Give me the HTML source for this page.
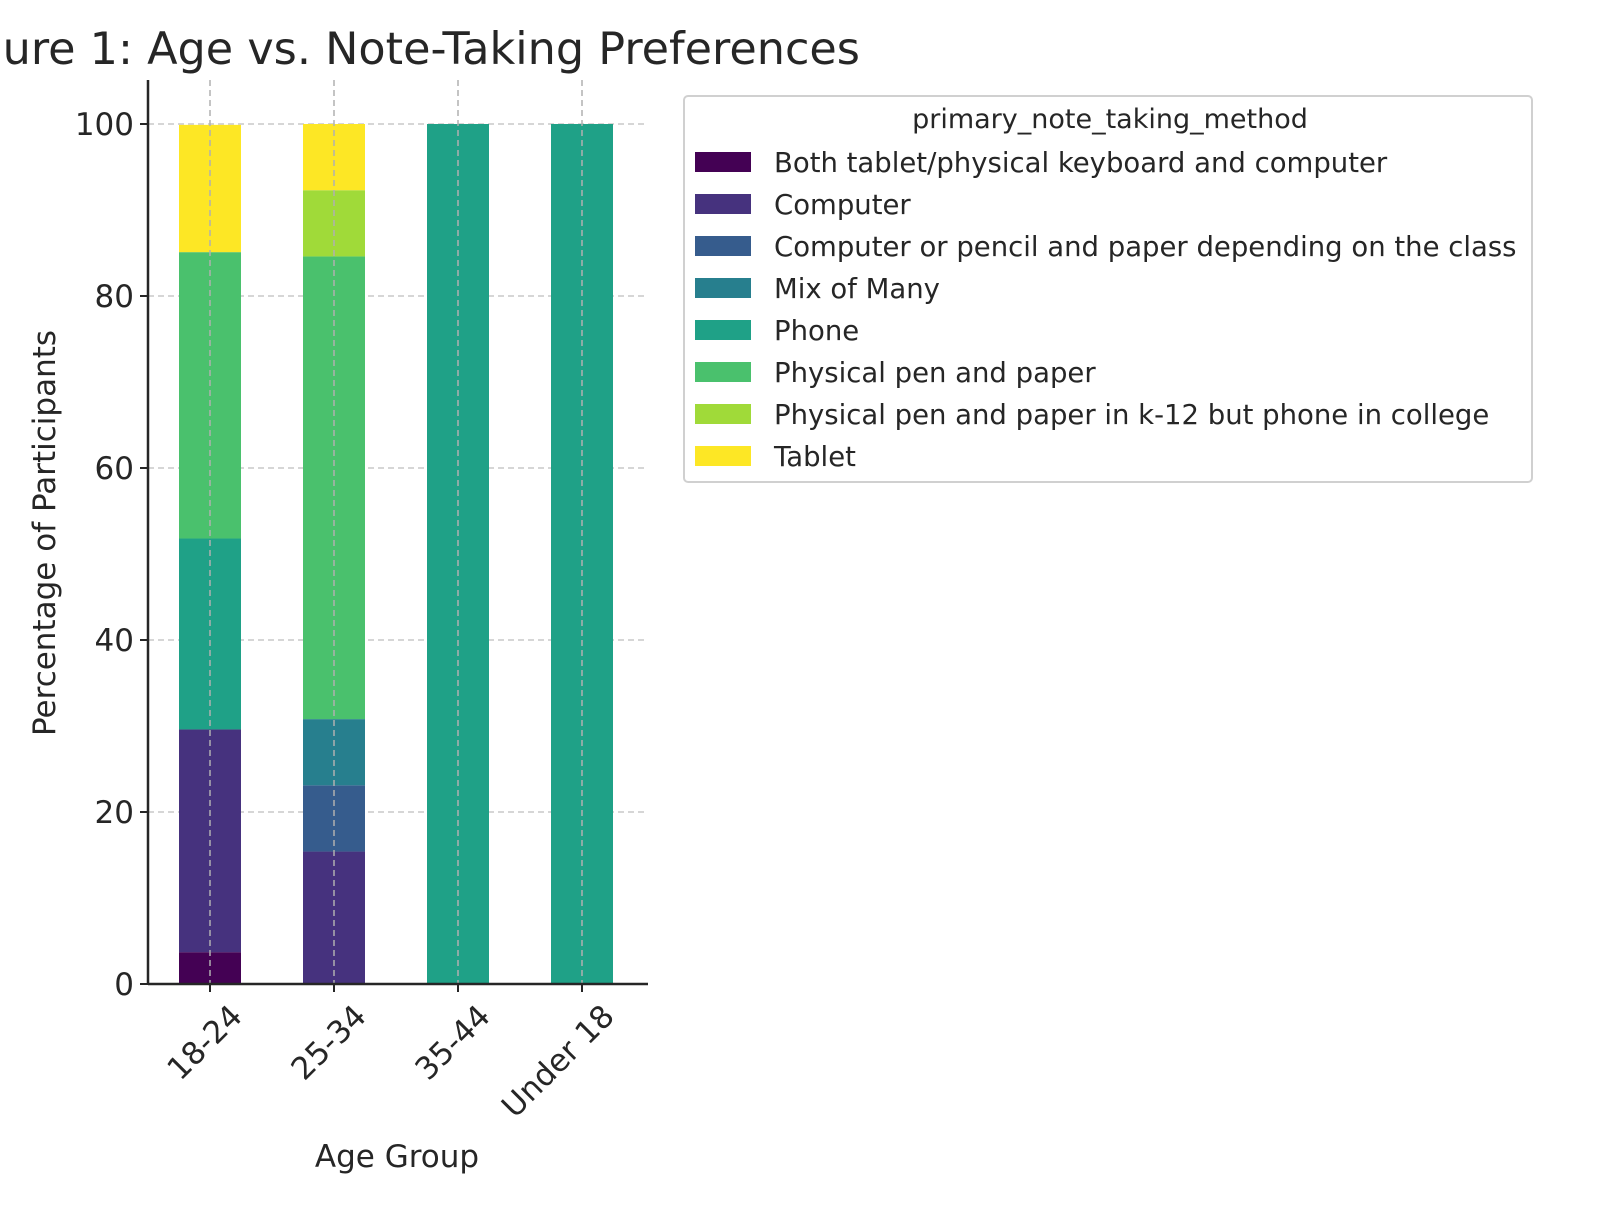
<!DOCTYPE html>
<html><head><meta charset="utf-8"><style>
body{margin:0;background:#fff;}
svg text{font-family:"DejaVu Sans","Liberation Sans",sans-serif;fill:#262626;}
</style></head><body>
<svg id="chart" width="1600" height="1200" viewBox="0 0 1600 1200" xmlns="http://www.w3.org/2000/svg">
<text x="860" y="64" font-size="44.5" text-anchor="end">Figure 1: Age vs. Note-Taking Preferences</text>
<g id="grid"></g><g id="bars"></g><g id="axes"></g><g id="legend"></g>
<text transform="translate(55,533) rotate(-90)" font-size="31" text-anchor="middle">Percentage of Participants</text>
<text x="397" y="1167" font-size="31" text-anchor="middle">Age Group</text>
</svg>
<script>
const categories=["18-24","25-34","35-44","Under 18"];
const methods=["Both tablet/physical keyboard and computer","Computer","Computer or pencil and paper depending on the class","Mix of Many","Phone","Physical pen and paper","Physical pen and paper in k-12 but phone in college","Tablet"];
const colors=["#440154","#46327e","#365c8d","#277f8e","#1fa187","#4ac16d","#a0da39","#fde725"];
const sBoth=[3.7,0,0,0];
const sComputer=[25.9,15.4,0,0];
const sCorP=[0,7.7,0,0];
const sMix=[0,7.7,0,0];
const sPhone=[22.2,0,100,100];
const sPen=[33.3,53.8,0,0];
const sPenK12=[0,7.7,0,0];
const sTablet=[14.8,7.7,0,0];
const series=[sBoth,sComputer,sCorP,sMix,sPhone,sPen,sPenK12,sTablet];
const yTicks=[0,20,40,60,80,100];
const NS="http://www.w3.org/2000/svg";
const X0=148,X1=648,Y0=984,YT=80;
const yScale=v=>Y0-v*8.6;
const xScale=i=>210+i*124;
const BW=62;
function mk(tag,attrs,parent){const e=document.createElementNS(NS,tag);for(const k in attrs)e.setAttribute(k,attrs[k]);parent.appendChild(e);return e;}
const grid=document.getElementById('grid'),bars=document.getElementById('bars'),axes=document.getElementById('axes'),legend=document.getElementById('legend');
yTicks.forEach(t=>{
 const l=mk('line',{x1:X0,x2:X1,y1:yScale(t),y2:yScale(t),stroke:'#c8c8c8','stroke-width':1.5,'stroke-dasharray':'6,4'},grid);
 
 
 const tk=mk('line',{x1:X0-8,x2:X0,y1:yScale(t),y2:yScale(t),stroke:'#262626','stroke-width':2},axes);
 
 
 const tx=mk('text',{x:X0-14,y:yScale(t)+11,'font-size':31,'text-anchor':'end'},axes);
 tx.textContent=t;
 
 
});
categories.forEach((c,i)=>{
 let base=0;
 series.forEach((s,j)=>{
  const v=s[i]; if(!v)return;
  const r=mk('rect',{x:xScale(i)-BW/2,y:yScale(base+v),width:BW,height:yScale(base)-yScale(base+v),fill:colors[j]},bars);
  
  
  base+=v;
 });
});
categories.forEach((c,i)=>{
 const g=mk('line',{x1:xScale(i),x2:xScale(i),y1:YT,y2:Y0,stroke:'#b0b0b0','stroke-width':1.5,'stroke-dasharray':'6,4'},axes);
 
 
 const tk=mk('line',{x1:xScale(i),x2:xScale(i),y1:Y0,y2:Y0+8,stroke:'#262626','stroke-width':2},axes);
 
 
 const tx=mk('text',{transform:`translate(${xScale(i)+34},${Y0+34}) rotate(-45)`,'font-size':31,'text-anchor':'end'},axes);
 tx.textContent=c;
 
 
});
const la=mk('line',{x1:X0,x2:X0,y1:YT,y2:Y0,stroke:'#262626','stroke-width':2.5},axes);


const lb=mk('line',{x1:X0,x2:X1,y1:Y0,y2:Y0,stroke:'#262626','stroke-width':2.5},axes);


const box=mk('rect',{x:684,y:96,width:848,height:386,rx:4,fill:'#fff',stroke:'#d0d0d0','stroke-width':2},legend);


const lt=mk('text',{x:1110,y:128,'font-size':27,'text-anchor':'middle'},legend);
lt.textContent='primary_note_taking_method';


methods.forEach((m,j)=>{
 const y=162+j*42;
 const p=mk('rect',{x:695,y:y-10,width:56,height:20,fill:colors[j]},legend);
 
 
 const t=mk('text',{x:774,y:y+10,'font-size':27.5},legend);
 t.textContent=m;
 
 
});
</script>
</body></html>
